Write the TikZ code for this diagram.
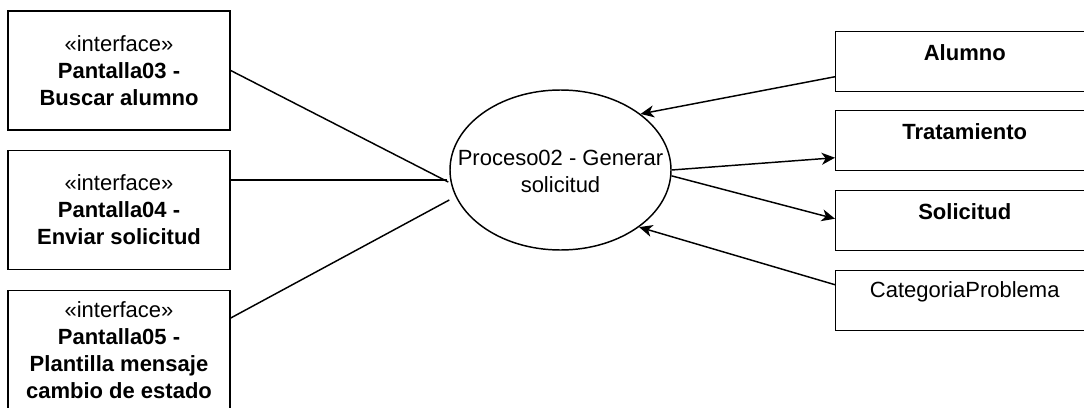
\documentclass[tikz,border=0pt]{standalone}
\usepackage{fontspec}
\setmainfont{Liberation Sans}
\usetikzlibrary{arrows.meta,shapes.geometric,calc}
\begin{document}
\begin{tikzpicture}[x=0.75pt,y=-0.75pt,
  font=\fontsize{16.5pt}{20.25pt}\selectfont,
  line width=1.1pt,
  iface/.style={draw, minimum width=166.5pt, minimum height=89.25pt,
    align=center, inner sep=0pt},
  entity/.style={draw, minimum width=193.5pt, minimum height=45pt,
    anchor=north west, inner sep=0pt},
  proc/.style={draw, ellipse, minimum width=165.75pt, minimum height=120pt,
    inner sep=0pt},
  arr/.style={-{Stealth[length=10pt,width=9pt,inset=3pt]}}]

% page frame
\clip (0,0) rectangle (1084,407);

% interface boxes on the left
\node[iface] (p03) at (119,70.5)
  {«interface»\\\textbf{Pantalla03 -}\\\textbf{Buscar alumno}};
\node[iface] (p04) at (119,210)
  {«interface»\\\textbf{Pantalla04 -}\\\textbf{Enviar solicitud}};
\node[iface] (p05) at (119,350)
  {«interface»\\\textbf{Pantalla05 -}\\\textbf{Plantilla mensaje}\\\textbf{cambio de estado}};

% the process: outline and its caption
\node[proc] (proc) at (560.5,170) {};
\node[align=center, inner sep=0pt] (procT) at (560.5,171.5)
  {Proceso02 - Generar\\solicitud};

% entity boxes on the right
\node[entity] (alumno) at (835,31) {};
\node[entity] (trat)   at (835,110) {};
\node[entity] (soli)   at (835,190) {};
\node[entity] (cat)    at (835,270) {};
\node (alumnoT) at ($(alumno.north)+(0,22)$) {\textbf{Alumno}};
\node (tratT)   at ($(trat.north)+(0,22)$)   {\textbf{Tratamiento}};
\node (soliT)   at ($(soli.north)+(0,22)$)   {\textbf{Solicitud}};
\node (catT)    at ($(cat.north)+(0,22)$)    {CategoriaProblema};

% plain links from the interfaces
\draw (p03.east) -- ($(proc.west)+(-1,12)$);
\draw ($(p04.east)+(0,-30)$) -- ($(proc.west)+(-2,10)$);
\draw ($(p05.east)+(0,-32)$) -- ($(proc.west)+(0,30)$);

% directed links with the entities
\draw[arr] ($(alumno.west)+(0,15)$) -- (proc.35);
\draw[arr] (proc.east) -- ($(trat.west)+(0,17)$);
\draw[arr] (proc.-3) -- ($(soli.west)+(0,-2)$);
\draw[arr] ($(cat.west)+(0,-16)$) -- (proc.-36);
\end{tikzpicture}
\end{document}
